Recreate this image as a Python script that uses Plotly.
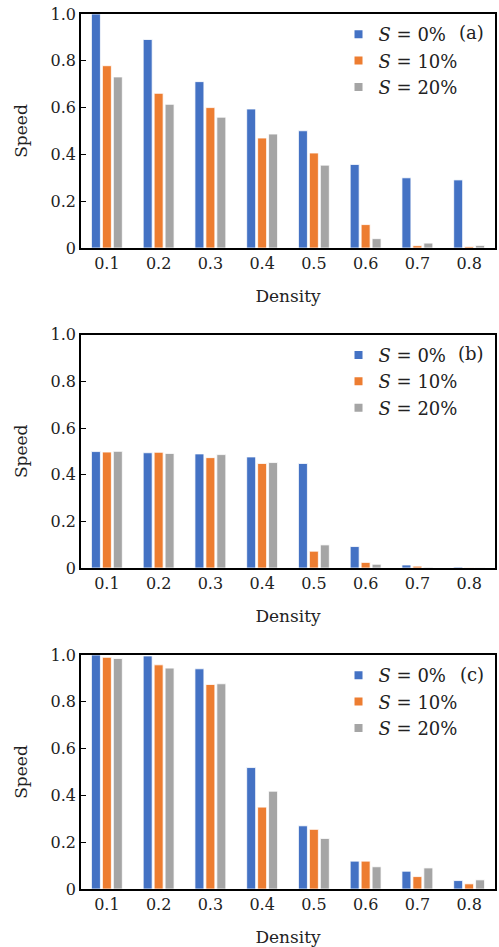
import plotly.graph_objects as go
from plotly.subplots import make_subplots

density = ["0.1", "0.2", "0.3", "0.4", "0.5", "0.6", "0.7", "0.8"]
series_names = ["<i>S</i> = 0%", "<i>S</i> = 10%", "<i>S</i> = 20%"]
colors = ["#4472C4", "#ED7D31", "#A5A5A5"]

a_s0 = [1.0, 0.891, 0.711, 0.594, 0.501, 0.357, 0.300, 0.291]
a_s10 = [0.779, 0.661, 0.600, 0.470, 0.406, 0.100, 0.010, 0.006]
a_s20 = [0.731, 0.614, 0.559, 0.487, 0.354, 0.040, 0.021, 0.011]

b_s0 = [0.499, 0.494, 0.489, 0.476, 0.448, 0.092, 0.013, 0.004]
b_s10 = [0.497, 0.496, 0.473, 0.448, 0.072, 0.024, 0.008, 0.001]
b_s20 = [0.500, 0.491, 0.486, 0.452, 0.099, 0.016, 0.003, 0.001]

c_s0 = [1.0, 0.996, 0.941, 0.519, 0.270, 0.119, 0.076, 0.036]
c_s10 = [0.990, 0.958, 0.874, 0.350, 0.255, 0.119, 0.053, 0.022]
c_s20 = [0.985, 0.944, 0.877, 0.418, 0.216, 0.095, 0.090, 0.039]

y_tickvals = [0, 0.2, 0.4, 0.6, 0.8, 1.0]
y_ticktext = ["0", "0.2", "0.4", "0.6", "0.8", "1.0"]
panel_labels = ["(a)", "(b)", "(c)"]

panels = [(a_s0, a_s10, a_s20), (b_s0, b_s10, b_s20), (c_s0, c_s10, c_s20)]

FONT = "DejaVu Serif"
fig = make_subplots(rows=3, cols=1)

legend_names = ["legend", "legend2", "legend3"]
for r, data in enumerate(panels, start=1):
    for name, vals, col in zip(series_names, data, colors):
        fig.add_trace(go.Bar(x=density, y=vals, marker=dict(color=col, line=dict(color="white", width=0.8)),
                             showlegend=False, name=name), row=r, col=1)
    for name, col in zip(series_names, colors):
        fig.add_trace(go.Scatter(x=[None], y=[None], mode="markers", name=name,
                                 marker=dict(symbol="square", size=8, color=col),
                                 legend=legend_names[r - 1], showlegend=True), row=r, col=1)

# domains (paper coords) from pixel layout
H = 875.0
doms = [(1 - 234 / H, 1.0), (1 - 554 / H, 1 - 320.7 / H), (0.0, 1 - 641 / H)]
for i, dom in enumerate(doms, start=1):
    xa = "xaxis" if i == 1 else f"xaxis{i}"
    ya = "yaxis" if i == 1 else f"yaxis{i}"
    fig.layout[ya].update(domain=list(dom), range=[0, 1], tickvals=y_tickvals, ticktext=y_ticktext,
                          ticks="inside", ticklen=5, tickwidth=1.2, tickcolor="black",
                          showline=True, linecolor="black", linewidth=1.5, mirror=True,
                          showgrid=False, zeroline=False,
                          tickfont=dict(family=FONT, size=16, color="#222"),
                          title=dict(text="Speed", font=dict(family=FONT, size=17, color="#222"), standoff=19))
    fig.layout[xa].update(showline=True, linecolor="black", linewidth=1.5, mirror=True,
                          showgrid=False, ticks="",
                          tickfont=dict(family=FONT, size=16, color="#222"),
                          title=dict(text="Density", font=dict(family=FONT, size=17, color="#222"), standoff=18))
    top_px = 14 + (1 - dom[1]) * H
    ly = 1 - (top_px + 2 - 14) / H
    fig.layout[legend_names[i - 1]] = dict(x=0.622, xanchor="left", y=ly, yanchor="top",
                                           bgcolor="rgba(0,0,0,0)", borderwidth=0,
                                           font=dict(family=FONT, size=18, color="#222"))
    fig.add_annotation(text=panel_labels[i - 1], xref="paper", yref="paper",
                       x=0.978, y=1 - (top_px + 19 - 14) / H, xanchor="right", yanchor="middle",
                       showarrow=False, font=dict(family=FONT, size=18, color="#222"))

fig.update_layout(width=499, height=947, margin=dict(l=81, r=2, t=14, b=58),
                  plot_bgcolor="white", paper_bgcolor="white",
                  barmode="group", bargap=0.365, bargroupgap=0.18)

fig.write_html("out.html")
